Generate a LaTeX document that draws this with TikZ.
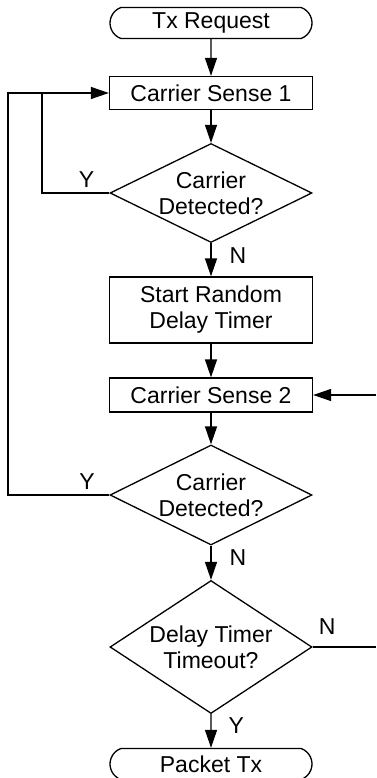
\documentclass[tikz,border=0pt]{standalone}
\usepackage{fontspec}
\setmainfont{Liberation Sans}
\usetikzlibrary{arrows.meta,shapes.geometric,shapes.misc}

\begin{document}
\begin{tikzpicture}[x=1pt,y=-1pt,line width=1.3pt,
  font=\fontsize{23}{26}\selectfont,
  term/.style={draw,rounded rectangle,rounded rectangle arc length=140,
    minimum width=202pt,minimum height=31pt,inner sep=0pt},
  proc/.style={draw,rectangle,minimum width=203pt,inner sep=0pt,align=center},
  test/.style={draw,diamond,minimum width=202pt,inner sep=-4pt,align=center},
  lbl/.style={inner sep=0pt},
  flow/.style={-{Triangle[length=18pt,width=12pt]}}]
  \useasboundingbox (0,0) rectangle (376,778);
  % Main column of steps.
  \node[term] (start) at (211,23) {Tx Request};
  \node[proc,minimum height=33pt] (cs1) at (211,93) {Carrier Sense 1};
  \node[test,minimum height=99pt,aspect=2.04] (det1) at (211,193) {Carrier\\Detected?};
  \node[proc,minimum height=66pt] (delay) at (211,310) {Start Random\\Delay Timer};
  \node[proc,minimum height=34pt] (cs2) at (211,395) {Carrier Sense 2};
  \node[test,minimum height=100pt,aspect=2.04] (det2) at (211,495) {Carrier\\Detected?};
  \node[test,minimum height=133pt,aspect=1.52,inner sep=-2pt] (timeout) at (211,647) {Delay Timer\\Timeout?};
  \node[term] (done) at (211,764) {Packet Tx};
  % Loop rails and the open ends on the right.
  \coordinate (inner) at (42,0);
  \coordinate (outer) at (8,0);
  \coordinate (entryR) at (376,395);
  \coordinate (exitR) at (376,647);
  \draw[flow] (start) -- (cs1);
  \draw[flow] (cs1) -- (det1);
  \draw[flow] (det1) -- node[lbl,pos=0.37,right=18pt] {N} (delay);
  \draw[flow] (delay) -- (cs2);
  \draw[flow] (cs2) -- (det2);
  \draw[flow] (det2) -- node[lbl,pos=0.34,right=18pt] {N} (timeout);
  \draw[flow] (timeout) -- node[lbl,pos=0.33,right=17pt] {Y} (done);
  \draw[flow] (det1.west) -| node[lbl,pos=0.17,above=5pt] {Y} (inner |- cs1.west) -- (cs1.west);
  \draw (det2.west) -| node[lbl,pos=0.11,above=5pt] {Y} (outer |- cs1.west) -- (inner |- cs1.west);
  \draw[flow] (entryR) -- (cs2.east);
  \draw (timeout.east) -- node[lbl,pos=0.23,above=12pt] {N} (exitR);
\end{tikzpicture}
\end{document}
